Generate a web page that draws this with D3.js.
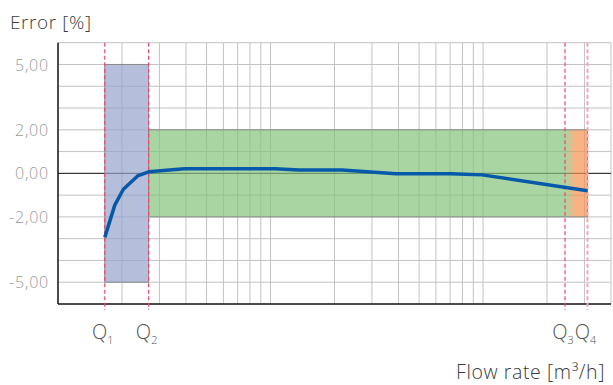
<!DOCTYPE html>
<html>
<head>
<meta charset="utf-8">
<script src="https://cdn.jsdelivr.net/npm/d3@7"></script>
<style>
  body { margin: 0; background: white; }
  text { font-family: "Open Sans", Roboto, sans-serif; }
</style>
</head>
<body>
<div id="graphicContainer"></div>
<script>
// flow rate (m3/h) and error (%)
var flow = [0.0166, 0.0185, 0.0203, 0.0237, 0.0267, 0.0393, 0.105, 0.136, 0.217, 0.389, 0.705, 0.99, 3.1]
var error = [-2.94, -1.46, -0.73, -0.12, 0.07, 0.21, 0.21, 0.15, 0.15, -0.02, -0.02, -0.07, -0.8]

// characteristic flow rates
var qNames = ["1", "2", "3", "4"]
var qValues = [0.0166, 0.0267, 2.43, 3.1]

// maximum permissible error bands
var lowerMpe = 5
var upperMpe = 2

var yTicks = [5, 2, 0, -2, -5]
var yTickLabels = ["5,00", "2,00", "0,00", "-2,00", "-5,00"]

var width = 613, height = 385
var margin = {top: 42.7, right: 2, bottom: 81, left: 58}

var svg = d3.select("#graphicContainer").append("svg")
    .attr("width", width)
    .attr("height", height)

var x = d3.scaleLog()
    .domain([0.01, 4])
    .range([margin.left, width - margin.right])

var y = d3.scaleLinear()
    .domain([-6, 6])
    .range([height - margin.bottom, margin.top])

var defs = svg.append("defs")
var grad = defs.append("linearGradient")
    .attr("id", "q3fade")
    .attr("gradientUnits", "userSpaceOnUse")
    .attr("x1", x(qValues[2])).attr("x2", x(qValues[3]))
    .attr("y1", 0).attr("y2", 0)
grad.append("stop").attr("offset", 0).attr("stop-color", "rgb(132,195,124)")
grad.append("stop").attr("offset", 0.45).attr("stop-color", "rgb(245,145,78)")

// vertical log grid
var xGrid = []
for (var dec = 0.01; dec < 5; dec *= 10) {
    for (var n = 1; n <= 9; n++) {
        var v = +(dec * n).toPrecision(3)
        if (v <= 4) xGrid.push(v)
    }
}

var grid = svg.append("g")
grid.selectAll(".vgrid")
    .data(xGrid)
    .enter().append("line")
    .attr("class", "vgrid")
    .attr("x1", d => x(d)).attr("x2", d => x(d))
    .attr("y1", y(6)).attr("y2", y(-6))
    .attr("stroke", "#c2c2c2")
    .attr("stroke-width", 1)

grid.selectAll(".hgrid")
    .data(d3.range(-6, 7))
    .enter().append("line")
    .attr("class", "hgrid")
    .attr("x1", x(0.01)).attr("x2", x(4))
    .attr("y1", d => y(d)).attr("y2", d => y(d))
    .attr("stroke", "#c2c2c2")
    .attr("stroke-width", 1)

// zero line
svg.append("line")
    .attr("x1", x(0.01)).attr("x2", x(4))
    .attr("y1", y(0)).attr("y2", y(0))
    .attr("stroke", "#1a1a1a")
    .attr("stroke-width", 1)

var bands = svg.append("g")

// lower zone Q1..Q2
bands.append("rect")
    .attr("x", x(qValues[0]))
    .attr("y", y(lowerMpe))
    .attr("width", x(qValues[1]) - x(qValues[0]))
    .attr("height", y(-lowerMpe) - y(lowerMpe))
    .attr("fill", "rgb(149,164,204)")
    .attr("fill-opacity", 0.7)
    .attr("stroke", "#8a8a8a")

// upper zone Q2..Q3
bands.append("rect")
    .attr("x", x(qValues[1]))
    .attr("y", y(upperMpe))
    .attr("width", x(qValues[2]) - x(qValues[1]))
    .attr("height", y(-upperMpe) - y(upperMpe))
    .attr("fill", "rgb(132,195,124)")
    .attr("fill-opacity", 0.7)

// overload zone Q3..Q4
bands.append("rect")
    .attr("x", x(qValues[2]))
    .attr("y", y(upperMpe))
    .attr("width", x(qValues[3]) - x(qValues[2]))
    .attr("height", y(-upperMpe) - y(upperMpe))
    .attr("fill", "url(#q3fade)")
    .attr("fill-opacity", 0.7)

// outline of the upper zone
bands.append("rect")
    .attr("x", x(qValues[1]))
    .attr("y", y(upperMpe))
    .attr("width", x(qValues[3]) - x(qValues[1]))
    .attr("height", y(-upperMpe) - y(upperMpe))
    .attr("fill", "none")
    .attr("stroke", "#8a8a8a")

// axes
svg.append("line")
    .attr("x1", x(0.01)).attr("x2", x(0.01))
    .attr("y1", y(6)).attr("y2", y(-6))
    .attr("stroke", "#1a1a1a").attr("stroke-width", 1.5)
svg.append("line")
    .attr("x1", x(0.01)).attr("x2", x(4))
    .attr("y1", y(-6)).attr("y2", y(-6))
    .attr("stroke", "#1a1a1a").attr("stroke-width", 1.5)

// Q markers
svg.selectAll(".qline")
    .data(qValues)
    .enter().append("line")
    .attr("class", "qline")
    .attr("x1", d => x(d)).attr("x2", d => x(d))
    .attr("y1", y(6)).attr("y2", y(-6) + 6)
    .attr("stroke", (d, i) => i == 3 ? "#f7a3b6" : "#f0456e")
    .attr("stroke-width", (d, i) => i == 3 ? 2 : 1.2)
    .attr("stroke-dasharray", "4,2.5")

// error curve
var line = d3.line()
    .x(d => x(d[0]))
    .y(d => y(d[1]))

svg.append("path")
    .datum(flow.map((f, i) => [f, error[i]]))
    .attr("d", line)
    .attr("fill", "none")
    .attr("stroke", "#0659a9")
    .attr("stroke-width", 3.5)
    .attr("stroke-linejoin", "round")

// y tick labels
svg.selectAll(".ylab")
    .data(yTicks)
    .enter().append("text")
    .attr("class", "ylab")
    .attr("x", 49)
    .attr("y", d => y(d))
    .attr("dy", "0.38em")
    .attr("text-anchor", "end")
    .attr("fill", "#9a9a9a")
    .attr("font-size", 16)
    .attr("font-weight", 300)
    .attr("letter-spacing", 0.8)
    .text((d, i) => yTickLabels[i])

// Q labels
var qLab = svg.selectAll(".qlab")
    .data(qValues)
    .enter().append("text")
    .attr("class", "qlab")
    .attr("x", d => x(d) - 2)
    .attr("y", 339)
    .attr("text-anchor", "middle")
    .attr("fill", "#555")
    .attr("font-size", 20)
    .attr("font-weight", 300)
qLab.append("tspan").text("Q")
qLab.append("tspan")
    .attr("font-size", 11)
    .attr("dy", 5)
    .text((d, i) => qNames[i])

svg.append("text")
    .attr("x", 10)
    .attr("y", 28.5)
    .attr("fill", "#3a3a3a")
    .attr("font-size", 19)
    .attr("font-weight", 300)
    .attr("letter-spacing", 0.6)
    .text("Error [%]")

svg.append("text")
    .attr("x", 605)
    .attr("y", 379)
    .attr("text-anchor", "end")
    .attr("fill", "#3a3a3a")
    .attr("font-size", 19.5)
    .attr("font-weight", 300)
    .attr("letter-spacing", 0.6)
    .text("Flow rate [m³/h]")
</script>
</body>
</html>
